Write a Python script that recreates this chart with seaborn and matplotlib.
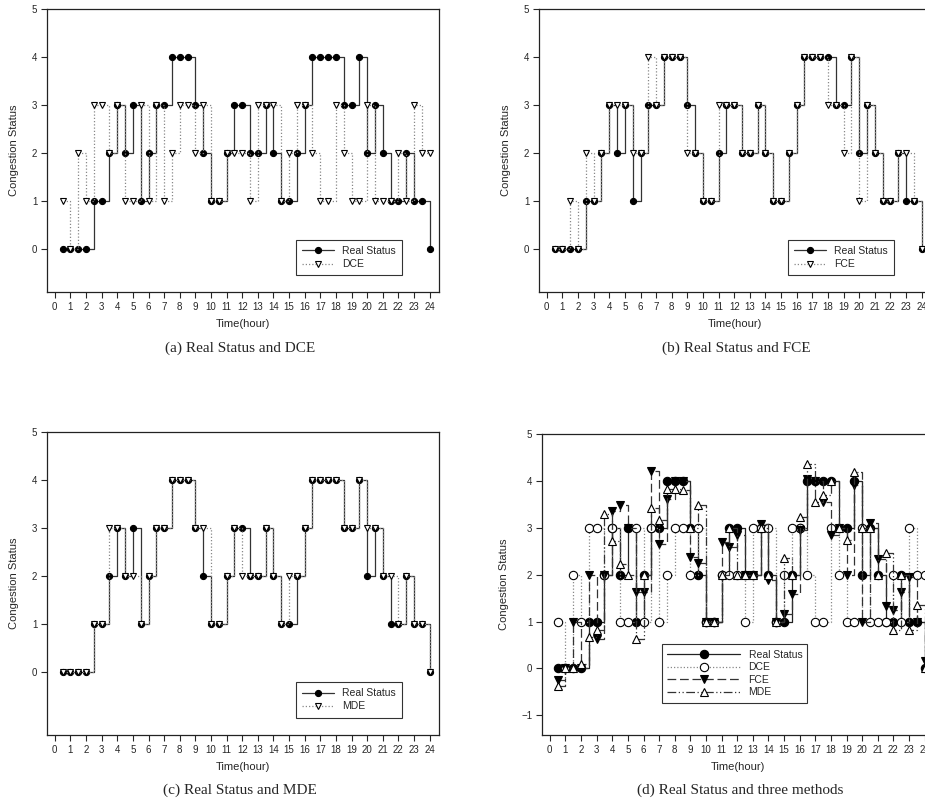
"""
Congestion status: real status vs. DCE / FCE / MDE estimates.
"""

import numpy as np
import pandas as pd
import matplotlib
matplotlib.use("Agg")
import matplotlib.pyplot as plt
import seaborn as sns

sns.set_style("ticks")
plt.rcParams["font.family"] = ["Liberation Sans", "DejaVu Sans"]

# half-hour sampling points
hours = [0.5, 1.0, 1.5, 2.0, 2.5, 3.0, 3.5, 4.0, 4.5, 5.0, 5.5, 6.0,
         6.5, 7.0, 7.5, 8.0, 8.5, 9.0, 9.5, 10.0, 10.5, 11.0, 11.5, 12.0,
         12.5, 13.0, 13.5, 14.0, 14.5, 15.0, 15.5, 16.0, 16.5, 17.0, 17.5, 18.0,
         18.5, 19.0, 19.5, 20.0, 20.5, 21.0, 21.5, 22.0, 22.5, 23.0, 23.5, 24.0]

real_status = [0, 0, 0, 0, 1, 1, 2, 3, 2, 3, 1, 2,
               3, 3, 4, 4, 4, 3, 2, 1, 1, 2, 3, 3,
               2, 2, 3, 2, 1, 1, 2, 3, 4, 4, 4, 4,
               3, 3, 4, 2, 3, 2, 1, 1, 2, 1, 1, 0]

dce = [1, 0, 2, 1, 3, 3, 2, 3, 1, 1, 3, 1,
       3, 1, 2, 3, 3, 2, 3, 1, 1, 2, 2, 2,
       1, 3, 3, 3, 1, 2, 3, 3, 2, 1, 1, 3,
       2, 1, 1, 3, 1, 1, 1, 2, 1, 3, 2, 2]

fce_class = [0, 0, 1, 0, 2, 1, 2, 3, 3, 3, 2, 2,
             4, 3, 4, 4, 4, 2, 2, 1, 1, 3, 3, 3,
             2, 2, 3, 2, 1, 1, 2, 3, 4, 4, 4, 3,
             3, 2, 4, 1, 3, 2, 1, 1, 2, 2, 1, 0]

mde_class = [0, 0, 0, 0, 1, 1, 3, 3, 2, 2, 1, 2,
             3, 3, 4, 4, 4, 3, 3, 1, 1, 2, 3, 2,
             2, 2, 3, 2, 1, 2, 2, 3, 4, 4, 4, 4,
             3, 3, 4, 3, 3, 2, 2, 1, 2, 1, 1, 0]

# continuous estimates shown in panel (d)
fce_est = [-0.24, 0.0, 1.0, 0.0, 2.0, 0.62, 2.0, 3.36, 3.49, 3.0, 1.62, 1.62,
           4.21, 2.65, 3.61, 4.0, 4.0, 2.38, 2.24, 1.0, 1.0, 2.7, 2.6, 2.85,
           2.0, 2.0, 3.07, 1.89, 1.0, 1.17, 1.58, 2.95, 4.04, 4.0, 3.56, 2.85,
           3.0, 2.0, 3.91, 1.0, 3.1, 2.33, 1.33, 1.25, 1.64, 1.96, 1.0, 0.16]

mde_est = [-0.38, 0.0, 0.0, 0.1, 0.66, 0.81, 3.29, 2.72, 2.23, 2.0, 0.62, 2.0,
           3.43, 3.17, 3.82, 3.82, 3.81, 3.0, 3.48, 1.0, 1.0, 2.0, 3.0, 2.0,
           2.0, 2.0, 3.0, 2.0, 1.0, 2.35, 2.0, 3.24, 4.36, 3.56, 3.7, 4.0,
           3.0, 2.74, 4.2, 3.0, 3.0, 2.0, 2.47, 0.83, 2.0, 0.83, 1.35, 0.0]

x_ticks = list(range(0, 25))

DOT = (0, (1, 1.6))
DASH = (0, (7, 3))
DASHDOTDOT = (0, (7, 2, 1, 2, 1, 2))


def step_line(ax, y, label, color, ls, marker, mfc, ms, lw=0.9):
    df = pd.DataFrame({"hour": hours, "value": y})
    sns.lineplot(data=df, x="hour", y="value", ax=ax, estimator=None,
                 drawstyle="steps-post", color=color, linestyle=ls,
                 linewidth=lw, marker=marker, markersize=ms,
                 markerfacecolor=mfc, markeredgecolor="black",
                 markeredgewidth=0.8, label=label, legend=False)


def style_axes(ax, ylim, yticks):
    ax.set_xlim(-0.5, 24.6)
    ax.set_ylim(*ylim)
    ax.set_xticks(x_ticks)
    ax.set_yticks(yticks)
    ax.tick_params(labelsize=7, length=4, width=0.8, pad=3)
    for s in ax.spines.values():
        s.set_visible(True)
        s.set_linewidth(0.9)
        s.set_color("#222222")
    ax.set_xlabel("Time(hour)", fontsize=8, labelpad=5)
    ax.set_ylabel("Congestion Status", fontsize=8, labelpad=9)


fig = plt.figure(figsize=(9.25, 8.05), dpi=100)
W, H = 925, 805


def add_axes(left, top, right, bottom):
    return fig.add_axes([left / W, 1 - bottom / H, (right - left) / W, (bottom - top) / H])


pairs = [
    ((47, 9, 439, 292), dce, "DCE", "(a) Real Status and DCE", (240, 348)),
    ((539, 9, 931, 292), fce_class, "FCE", "(b) Real Status and FCE", (736, 348)),
    ((47, 432, 439, 735), mde_class, "MDE", "(c) Real Status and MDE", (240, 790)),
]

for box, est, name, caption, cpos in pairs:
    ax = add_axes(*box)
    step_line(ax, real_status, "Real Status", "#333333", "-", "o", "black", 4.4)
    step_line(ax, est, name, "#888888", DOT, "v", "white", 4.4)
    style_axes(ax, (-0.9 if box[1] < 100 else -1.32, 5), range(0, 6))
    leg = ax.legend(loc="lower left", bbox_to_anchor=(0.622, 0.04), fontsize=7.5,
                    frameon=True, fancybox=False, edgecolor="black",
                    handlelength=3, borderpad=0.6, labelspacing=0.3)
    leg.get_frame().set_linewidth(0.8)
    fig.text(cpos[0] / W, 1 - cpos[1] / H, caption, ha="center", va="center",
             fontsize=11, family="Liberation Serif")

# panel (d): all three methods
ax = add_axes(542, 434, 934, 735)
step_line(ax, real_status, "Real Status", "#222222", "-", "o", "black", 6)
step_line(ax, dce, "DCE", "#888888", DOT, "o", "white", 6)
step_line(ax, fce_est, "FCE", "#333333", DASH, "v", "black", 6)
step_line(ax, mde_est, "MDE", "#333333", DASHDOTDOT, "^", "white", 6)
style_axes(ax, (-1.42, 5), range(-1, 6))
leg = ax.legend(loc="lower left", bbox_to_anchor=(0.293, 0.09), fontsize=7.5,
                frameon=True, fancybox=False, edgecolor="black",
                handlelength=7, borderpad=0.5, labelspacing=0.25)
leg.get_frame().set_linewidth(0.8)
fig.text(740 / W, 1 - 790 / H, "(d) Real Status and three methods", ha="center",
         va="center", fontsize=11, family="Liberation Serif")

fig.savefig("out.png", dpi=100)
